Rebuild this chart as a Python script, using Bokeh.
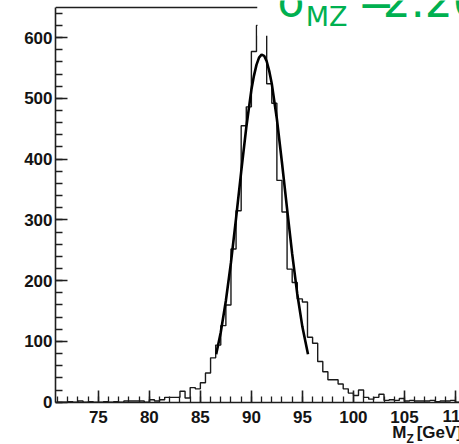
from bokeh.plotting import figure
from bokeh.models import Range1d, FixedTicker, LinearAxis, Label, BoxAnnotation
from bokeh.embed import file_html
from bokeh.resources import INLINE

# ---------------- data ----------------
bin_start = 71.0
bin_width = 0.5
counts = [0, 0, 1, 0, 2, 0, 1, 0, 0, 1,
          0, 1, 0, 2, 2, 2, 2, 0, 4, 2,
          4, 8, 8, 8, 18, 7, 24, 22, 32, 48,
          73, 94, 126, 160, 252, 315, 455, 486, 577, 620,
          630, 524, 492, 365, 313, 219, 197, 170, 165, 107,
          97, 67, 50, 37, 37, 30, 22, 15, 11, 20,
          8, 5, 8, 13, 3, 4, 3, 6, 2, 3,
          2, 2, 2, 3, 1, 2, 2, 3, 0]

fit_x = [86.55, 87.0, 87.5, 88.0, 88.5, 89.0, 89.5, 90.0, 90.25, 90.5, 90.75,
         91.0, 91.25, 91.5, 91.75, 92.0, 92.5, 93.0, 93.5, 94.0, 94.5, 95.0, 95.55]
fit_y = [79, 115, 167, 230, 303, 379, 452, 514, 537, 555, 567,
         572, 570, 561, 545, 524, 466, 394, 318, 244, 178, 124, 79]

x_major = [75, 80, 85, 90, 95, 100, 105, 110]
x_minor = list(range(71, 111))
y_major = [0, 100, 200, 300, 400, 500, 600]
y_minor = list(range(0, 641, 20))

x_lo, x_hi = 70.8, 110.4      # histogram axis extent
y_lo, y_hi = 0, 650           # histogram frame extent
view_lo, view_hi = -69.6, 661.0   # visible span incl. the label strip below

# ---------------- figure ----------------
p = figure(width=459, height=444, output_backend="svg", toolbar_location=None,
           x_range=Range1d(x_lo, x_hi), y_range=Range1d(view_lo, view_hi),
           min_border_left=55, min_border_right=0, min_border_top=0,
           min_border_bottom=0)
if p.title is not None:
    p.title.visible = False
p.outline_line_color = None
p.grid.visible = False
p.background_fill_color = "white"
p.border_fill_color = "white"

axis_col = "#1e1e1e"
for ax in (p.xaxis[0], p.yaxis[0]):
    ax.axis_line_color = axis_col
    ax.axis_line_width = 1.6
    ax.major_tick_line_color = axis_col
    ax.major_tick_line_width = 1.6
    ax.minor_tick_line_color = axis_col
    ax.minor_tick_line_width = 1.3
    ax.major_tick_out = 0
    ax.minor_tick_out = 0
    ax.major_label_text_font = "Liberation Sans"
    ax.major_label_text_font_style = "bold"
    ax.major_label_text_font_size = "17px"
    ax.major_label_text_color = "#141414"

xa = p.xaxis[0]
xa.fixed_location = y_lo
xa.ticker = FixedTicker(ticks=x_major, minor_ticks=x_minor)
xa.major_tick_in = 12
xa.minor_tick_in = 6
xa.major_label_standoff = 9
xa.major_label_overrides = {110: ""}

ya = p.yaxis[0]
ya.bounds = (y_lo, y_hi)
ya.ticker = FixedTicker(ticks=y_major, minor_ticks=y_minor)
ya.major_tick_in = 12
ya.minor_tick_in = 7
ya.major_label_standoff = 3

# top frame edge (partly hidden by the slide's text box)
top = LinearAxis(ticker=FixedTicker(ticks=[], minor_ticks=[]), fixed_location=y_hi,
                 bounds=(x_lo, 90.6), axis_line_color=axis_col, axis_line_width=1.6,
                 major_tick_in=0, major_tick_out=0, minor_tick_in=0, minor_tick_out=0,
                 major_label_text_alpha=0, major_label_standoff=0)
p.add_layout(top, "above")

# ---------------- histogram ----------------
edges = [bin_start + bin_width * i for i in range(len(counts) + 1)]
vals = counts + [counts[-1]]
p.step(x=edges, y=vals, mode="after", line_color="#1a1a1a", line_width=1.4)

# ---------------- fit ----------------
p.line(x=fit_x, y=fit_y, line_color="black", line_width=2.6)

# white text box of the slide overlay
p.add_layout(BoxAnnotation(left=90.6, bottom=603, fill_color="white", fill_alpha=1.0,
                           line_color=None))


def label(x, y, text, size, color, font, style="normal", align="left"):
    p.add_layout(Label(x=x, y=y, text=text, text_color=color, text_font=font,
                       text_font_style=style, text_font_size=size,
                       text_baseline="middle", text_align=align))


green = "#00B050"
label(92.56, 661.0, "σ", "44px", green, "DejaVu Sans")
label(95.32, 635.0, "MZ", "27px", green, "DejaVu Sans")
label(100.42, 661.0, "=", "44px", green, "DejaVu Sans")
label(102.87, 661.0, "2.26", "44px", green, "DejaVu Sans")

dark = "#141414"
label(108.73, -22.2, "110", "17px", dark, "Liberation Sans", "bold")
label(103.8, -50.3, "M", "17px", dark, "Liberation Sans", "bold")
label(105.2, -60.2, "Z", "12px", dark, "Liberation Sans", "bold")
label(106.2, -50.3, "[GeV]", "17px", dark, "Liberation Sans", "bold")

open("out.html", "w").write(file_html(p, INLINE))
